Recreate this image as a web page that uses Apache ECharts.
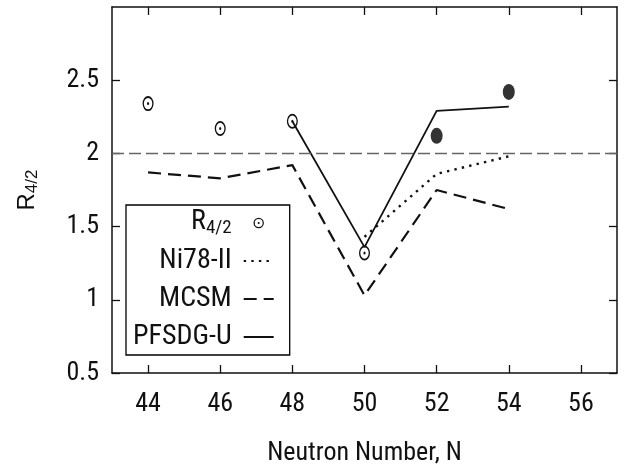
<!DOCTYPE html>
<html>
<head>
<meta charset="utf-8">
<script src="https://cdn.jsdelivr.net/npm/echarts@6/dist/echarts.min.js"></script>
<style>
html,body{margin:0;padding:0;background:#fff;}
#chart{width:631px;height:464px;}
</style>
</head>
<body>
<div id="chart"></div>
<script>
// ---- data ----
const neutronN = [44, 46, 48, 50, 52, 54];
const xTicks = [44, 46, 48, 50, 52, 54, 56];
const yTicks = [0.5, 1, 1.5, 2, 2.5];
const r42Exp = [2.34, 2.17, 2.22, 1.32, null, null];      // open circles
const r42New = [null, null, null, null, 2.12, 2.42];      // filled circles
const ni78 = [null, null, null, 1.43, 1.86, 1.98];
const mcsm = [1.87, 1.83, 1.92, 1.03, 1.75, 1.62];
const pfsdg = [null, null, 2.22, 1.36, 2.29, 2.32];
const refLine = 2.0;

function pairs(vals) {
  const out = [];
  vals.forEach((v, i) => { if (v !== null) out.push([neutronN[i], v]); });
  return out;
}

const FONT = '"Roboto Condensed", "Liberation Sans", sans-serif';
const NAMEFONT = '"Liberation Sans", Arial, sans-serif';
const INK = '#111';
const ringPath = 'path://M0,-10A10,10,0,1,1,0,10A10,10,0,1,1,0,-10ZM0,-7.6A7.6,7.6,0,1,0,0,7.6A7.6,7.6,0,1,0,0,-7.6ZM0,-2A2,2,0,1,1,0,2A2,2,0,1,1,0,-2Z';

const chart = echarts.init(document.getElementById('chart'), null, {renderer: 'canvas'});

const xBase = {
  type: 'value', min: 43, max: 57,
  axisLine: {show: true, onZero: false, lineStyle: {color: INK, width: 1.5}},
  axisTick: {show: true, inside: true, length: 8, customValues: xTicks, lineStyle: {color: INK, width: 1.3}},
  splitLine: {show: false}
};
const yBase = {
  type: 'value', min: 0.5, max: 3,
  axisLine: {show: true, onZero: false, lineStyle: {color: INK, width: 1.5}},
  axisTick: {show: true, inside: true, length: 8, customValues: yTicks, lineStyle: {color: INK, width: 1.3}},
  splitLine: {show: false}
};

const option = {
  backgroundColor: '#fff',
  animation: false,
  grid: {left: 112, right: 14, top: 7, bottom: 91, outerBoundsMode: 'none'},
  xAxis: [
    Object.assign({}, xBase, {
      position: 'bottom',
      name: 'Neutron Number, N', nameLocation: 'middle', nameGap: 67,
      nameTextStyle: {fontFamily: FONT, fontSize: 26, color: INK},
      axisLabel: {show: true, customValues: xTicks, margin: 18, fontFamily: FONT, fontSize: 26, color: INK}
    }),
    Object.assign({}, xBase, {position: 'top', axisLabel: {show: false}})
  ],
  yAxis: [
    Object.assign({}, yBase, {
      position: 'left',
      name: '{r|R}{s|4/2}', nameLocation: 'middle', nameGap: 71, nameRotate: 90,
      nameTextStyle: {
        fontFamily: NAMEFONT, color: INK,
        rich: {
          r: {fontFamily: NAMEFONT, fontSize: 24, lineHeight: 26, verticalAlign: 'top', color: INK},
          s: {fontFamily: NAMEFONT, fontSize: 17, lineHeight: 17, padding: [11, 0, 0, 0], verticalAlign: 'bottom', color: INK}
        }
      },
      axisLabel: {show: true, customValues: yTicks, margin: 13, fontFamily: FONT, fontSize: 26, color: INK}
    }),
    Object.assign({}, yBase, {position: 'right', axisLabel: {show: false}})
  ],
  legend: {
    orient: 'vertical', left: 126, top: 205, align: 'right',
    padding: [3, 15, 3, 7],
    itemWidth: 30, itemHeight: 13, itemGap: 8,
    borderColor: '#000', borderWidth: 1.3, backgroundColor: '#fff',
    selectedMode: false,
    textStyle: {fontFamily: FONT, fontSize: 28, lineHeight: 30, color: INK,
      rich: {
        t: {fontFamily: FONT, fontSize: 28, lineHeight: 30, color: INK, padding: [0, 7, 0, 0]},
        r: {fontFamily: FONT, fontSize: 28, lineHeight: 30, verticalAlign: 'top', color: INK},
        s: {fontFamily: FONT, fontSize: 19, lineHeight: 19, padding: [11, 7, 0, 0], verticalAlign: 'bottom', color: INK}
      }
    },
    formatter: function (name) {
      if (name === 'R42') return '{r|R}{s|4/2}';
      return '{t|' + name + '}';
    },
    data: [
      {name: 'R42'},
      {name: 'Ni78-II', itemStyle: {opacity: 0}},
      {name: 'MCSM', itemStyle: {opacity: 0}},
      {name: 'PFSDG-U', itemStyle: {opacity: 0}}
    ]
  },
  series: [
    {
      name: 'ref', type: 'line', data: [], silent: true,
      markLine: {
        silent: true, symbol: ['none', 'none'], label: {show: false},
        lineStyle: {color: '#666', width: 1.3, type: [12, 5]},
        data: [{yAxis: refLine}]
      }
    },
    {
      name: 'MCSM', type: 'line', data: pairs(mcsm), symbol: 'none',
      lineStyle: {color: INK, width: 2.2, type: [13, 7]}, itemStyle: {color: INK}
    },
    {
      name: 'Ni78-II', type: 'line', data: pairs(ni78), symbol: 'none',
      lineStyle: {color: INK, width: 2.4, type: [2.4, 5.2]}, itemStyle: {color: INK}
    },
    {
      name: 'PFSDG-U', type: 'line', data: pairs(pfsdg), symbol: 'none',
      lineStyle: {color: INK, width: 1.8, type: 'solid'}, itemStyle: {color: INK}
    },
    {
      name: 'R42', type: 'line', data: pairs(r42Exp), symbol: ringPath, symbolSize: [11, 15],
      showSymbol: true, lineStyle: {opacity: 0, width: 0}, itemStyle: {color: INK}
    },
    {
      name: 'R42new', type: 'scatter', data: pairs(r42New), symbol: 'circle', symbolSize: [12, 16],
      itemStyle: {color: '#000'}
    }
  ]
};
chart.setOption(option);
</script>
</body>
</html>
